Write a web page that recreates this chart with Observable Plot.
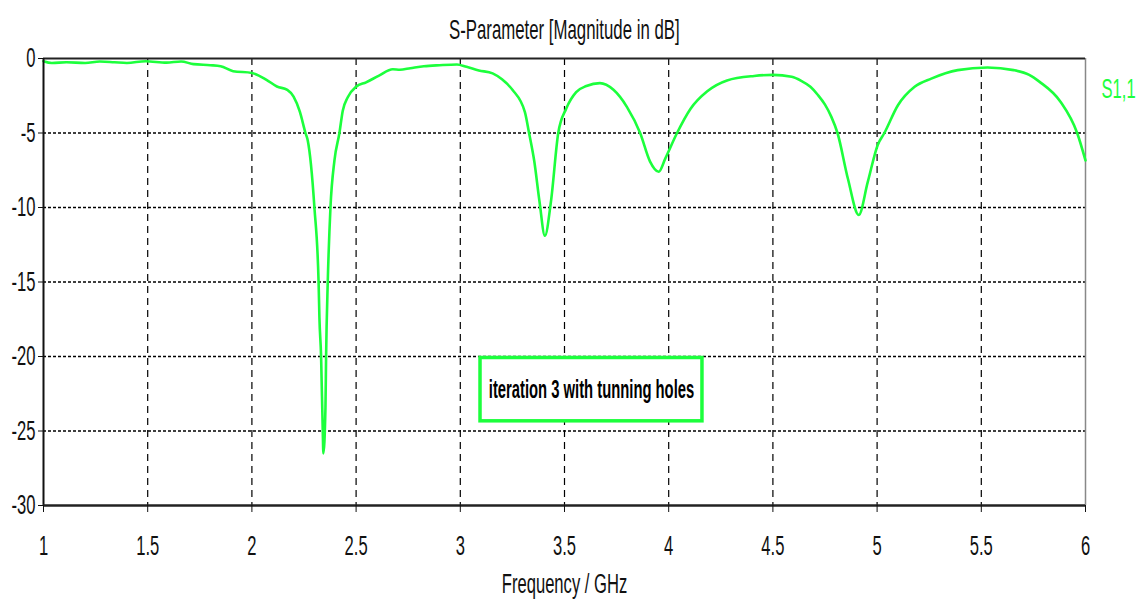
<!DOCTYPE html>
<html>
<head>
<meta charset="utf-8">
<script src="https://cdn.jsdelivr.net/npm/d3@7"></script>
<script src="https://cdn.jsdelivr.net/npm/@observablehq/plot@0.6"></script>
<style>
  body { margin: 0; background: #fff; }
  #wrap { position: relative; width: 1139px; height: 601px; overflow: hidden; }
  #title { position: absolute; left: 43px; width: 1042px; top: 0; height: 45px; text-align: center;
           font: 20px 'Liberation Sans', Arial, sans-serif; line-height: 22px; padding-top: 19px;
           box-sizing: border-box; color: #111; }
  #title span { display: inline-block; transform: scale(0.84, 1.35); transform-origin: center; }
  #chart { position: absolute; left: 0; top: 45px; }
</style>
</head>
<body>
<div id="wrap">
  <div id="title"><span>S-Parameter [Magnitude in dB]</span></div>
  <div id="chart"></div>
</div>
<script>
const FONT = "'Liberation Sans', Arial, sans-serif";
const GREEN = "#1cff3c";

// Frequency (GHz) and S1,1 magnitude (dB)
const freq = [1.00,1.04,1.11,1.20,1.27,1.34,1.40,1.49,1.59,1.66,1.72,1.80,1.85,1.91,2.00,2.07,2.12,2.17,2.20,2.23,
  2.257,2.268,2.30,2.32,2.324,2.332,2.34,2.343,2.353,2.356,2.364,2.377,2.396,2.42,2.436,2.46,2.50,2.548,2.61,2.676,
  2.71,2.76,2.825,2.90,2.984,3.03,3.089,3.155,3.20,3.25,3.31,3.33,3.355,3.38,3.406,3.435,3.47,3.508,3.556,3.605,
  3.67,3.735,3.80,3.863,3.91,3.952,3.984,4.04,4.105,4.185,4.28,4.41,4.50,4.59,4.636,4.68,4.716,4.75,4.78,4.81,
  4.86,4.912,4.955,5.003,5.035,5.10,5.18,5.26,5.387,5.53,5.655,5.73,5.78,5.88,5.96,6.00];
const s11 = [-0.18,-0.30,-0.25,-0.30,-0.20,-0.25,-0.30,-0.18,-0.28,-0.20,-0.38,-0.45,-0.52,-0.85,-0.97,-1.43,-1.88,-2.10,-2.56,-3.57,
  -5.0,-5.5,-10.0,-15.0,-17.4,-20.0,-25.0,-26.5,-23.4,-20.0,-15.0,-10.0,-6.85,-5.0,-3.5,-2.6,-1.9,-1.6,-1.15,-0.72,
  -0.75,-0.65,-0.52,-0.45,-0.40,-0.56,-0.80,-1.0,-1.4,-2.1,-3.6,-5.0,-6.9,-9.6,-11.9,-9.6,-5.0,-3.37,-2.25,-1.85,
  -1.65,-2.1,-3.26,-5.0,-6.9,-7.6,-6.7,-5.0,-3.37,-2.2,-1.47,-1.17,-1.1,-1.23,-1.5,-1.9,-2.45,-3.1,-3.9,-5.0,
  -8.07,-10.5,-8.3,-5.8,-5.0,-3.14,-1.9,-1.35,-0.78,-0.6,-0.78,-1.1,-1.57,-2.9,-5.0,-6.84];

const xTicks = [1,1.5,2,2.5,3,3.5,4,4.5,5,5.5,6];
const yTicks = [0,-5,-10,-15,-20,-25,-30];
const seriesName = "S1,1";
const xTitle = "Frequency / GHz";
// annotation box (in data units) and its text
const annotation = [{f1: 3.097, f2: 4.162, d1: -20.1, d2: -24.35, text: "iteration 3 with tunning holes"}];

const data = freq.map((f, i) => ({f, s: s11[i]}));

const chart = Plot.plot({
  width: 1139, height: 556,
  marginLeft: 43, marginRight: 54, marginTop: 13, marginBottom: 96,
  style: {fontFamily: FONT, fontSize: "20px", color: "#111", background: "#fff", overflow: "visible"},
  x: {domain: [1, 6]},
  y: {domain: [-30, 0]},
  marks: [
    Plot.gridX(xTicks.slice(1, -1), {stroke: "#000", strokeOpacity: 1, strokeWidth: 1.2, strokeDasharray: "7,5"}),
    Plot.gridY(yTicks.slice(1, -1), {stroke: "#000", strokeOpacity: 1, strokeWidth: 1.5, strokeDasharray: "3,2"}),
    Plot.ruleX([6], {stroke: "#888", strokeWidth: 1.5}),
    Plot.ruleY([0], {stroke: "#222", strokeWidth: 2}),
    Plot.line(data, {x: "f", y: "s", stroke: GREEN, strokeWidth: 2.6, curve: "monotone-x"}),
    Plot.rect(annotation, {x1: "f1", x2: "f2", y1: "d1", y2: "d2", fill: "#fff", stroke: GREEN, strokeWidth: 3.5}),
    Plot.text(annotation, {x: d => (d.f1 + d.f2) / 2, y: d => (d.d1 + d.d2) / 2, text: "text",
      fontSize: 20, fontWeight: "bold", fill: "#000"}),
    Plot.ruleX([1], {stroke: "#111", strokeWidth: 2}),
    Plot.ruleY([-30], {stroke: "#222", strokeWidth: 2.5}),
    Plot.axisX({ticks: xTicks, tickFormat: d => String(d), tickSize: 7, tickPadding: 23, fontSize: 20, stroke: "#111"}),
    Plot.axisY({ticks: yTicks, tickFormat: d => String(d), tickSize: 5, tickPadding: 3, fontSize: 20, label: null, stroke: "#111"}),
    Plot.text([xTitle], {frameAnchor: "bottom", dy: 79, lineAnchor: "middle", fontSize: 20, fill: "#111"}),
    Plot.text([seriesName], {frameAnchor: "top-right", dx: 16, dy: 31, textAnchor: "start", lineAnchor: "middle",
      fontSize: 20, fill: GREEN})
  ]
});
document.getElementById("chart").appendChild(chart);

// condense the lettering (tall and narrow, like the reference's font)
chart.querySelectorAll("text").forEach(t => {
  const isNote = t.textContent === annotation[0].text;
  const sx = isNote ? 0.74 : 0.83, sy = isNote ? 1.25 : 1.35;
  const ax = +t.getAttribute("x") || 0, ay = +t.getAttribute("y") || 0;
  const tr = t.getAttribute("transform") || "";
  t.setAttribute("transform", `${tr} translate(${ax},${ay}) scale(${sx},${sy}) translate(${-ax},${-ay})`);
});
</script>
</body>
</html>
